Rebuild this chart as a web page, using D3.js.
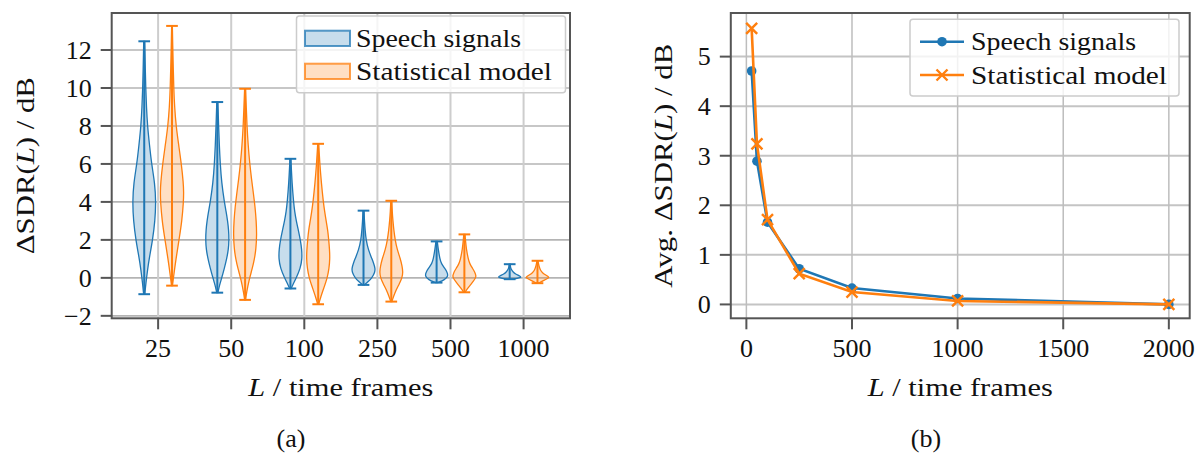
<!DOCTYPE html>
<html><head><meta charset="utf-8">
<script src="https://cdn.jsdelivr.net/npm/d3@7"></script>
<style>
body{margin:0;background:#fff}
svg{display:block}
</style>
</head><body>
<svg id="c" width="1204" height="455"></svg>
<script>
// ---------------- data ----------------
const categories = ["25", "50", "100", "250", "500", "1000"];
const seriesNames = ["Speech signals", "Statistical model"];
const colors = ["#1f77b4", "#ff7f0e"];

// violin profiles: [value in dB, relative density]; first/last entries are min/max
const speechProfiles = [
  [[-0.86,0.05],[-0.3,0.14],[0.5,0.3],[1,0.42],[2,0.72],[3,0.92],[4,1.0],[5,0.9],[6,0.63],[7,0.45],[8,0.28],[9,0.19],[10,0.13],[11,0.09],[12,0.06],[12.46,0.04]],
  [[-0.78,0.05],[-0.4,0.18],[0,0.38],[0.5,0.6],[1,0.8],[1.5,0.95],[2,1.0],[2.5,0.97],[3,0.88],[3.5,0.75],[4,0.6],[5,0.37],[6,0.25],[7,0.17],[8,0.11],[9,0.06],[9.26,0.04]],
  [[-0.56,0.06],[-0.3,0.25],[0,0.5],[0.5,0.85],[1,1.0],[1.5,0.97],[2,0.85],[2.5,0.68],[3,0.5],[3.5,0.36],[4,0.27],[5,0.14],[6,0.06],[6.27,0.04]],
  [[-0.37,0.08],[-0.2,0.4],[0,0.72],[0.3,0.98],[0.5,1.0],[0.8,0.85],[1,0.72],[1.5,0.4],[2,0.22],[2.5,0.14],[3,0.08],[3.54,0.04]],
  [[-0.25,0.1],[-0.1,0.7],[0.1,1.0],[0.3,0.9],[0.5,0.7],[0.75,0.4],[1,0.28],[1.5,0.14],[1.92,0.06]],
  [[-0.07,0.3],[0,0.85],[0.05,1.0],[0.12,0.8],[0.2,0.5],[0.3,0.3],[0.45,0.12],[0.6,0.06],[0.72,0.04]]
];
const modelProfiles = [
  [[-0.41,0.04],[0,0.12],[1,0.34],[2,0.6],[3,0.85],[4,0.98],[4.5,1.0],[5,0.97],[6,0.8],[7,0.57],[8,0.35],[9,0.22],[10,0.15],[11,0.11],[12,0.07],[13.27,0.03]],
  [[-1.16,0.04],[-0.8,0.12],[-0.1,0.34],[0.5,0.62],[1,0.8],[1.5,0.93],[2.3,1.0],[3,0.95],[3.7,0.86],[4.5,0.7],[5.2,0.55],[6,0.4],[7,0.26],[8,0.16],[9,0.1],[9.96,0.04]],
  [[-1.39,0.04],[-1,0.22],[-0.5,0.5],[0,0.78],[0.5,0.93],[1,1.0],[1.5,0.97],[2,0.9],[2.5,0.82],[3,0.68],[3.5,0.55],[4,0.44],[5,0.27],[6,0.14],[7.06,0.04]],
  [[-1.25,0.05],[-0.8,0.28],[-0.3,0.7],[0,0.92],[0.3,1.0],[0.6,0.93],[1,0.78],[1.5,0.5],[2,0.33],[2.5,0.22],[3,0.14],[3.5,0.08],[4.06,0.04]],
  [[-0.76,0.06],[-0.55,0.28],[-0.3,0.62],[0,0.97],[0.1,1.0],[0.3,0.9],[0.5,0.7],[0.75,0.45],[1,0.33],[1.5,0.17],[2,0.09],[2.29,0.05]],
  [[-0.28,0.08],[-0.15,0.5],[0,0.95],[0.04,1.0],[0.15,0.7],[0.25,0.45],[0.4,0.25],[0.55,0.17],[0.7,0.1],[0.9,0.04]]
];
const yTicksLeft = [-2, 0, 2, 4, 6, 8, 10, 12];

const frameLengths = [25, 50, 100, 250, 500, 1000, 2000];
const avgSpeech = [4.71, 2.89, 1.66, 0.72, 0.33, 0.12, 0.0];
const avgModel = [5.57, 3.24, 1.71, 0.62, 0.25, 0.07, 0.0];
const xTicksRight = [0, 500, 1000, 1500, 2000];
const yTicksRight = [0, 1, 2, 3, 4, 5];

// ---------------- helpers ----------------
const FONT = '"Liberation Serif", "Times New Roman", serif';
const svg = d3.select("#c").style("font-family", FONT);
const FS = 26;
const spineColor = "#555";
const gridColor = "#c4c4c4";
const fmt = v => (v < 0 ? "\u2212" + Math.abs(v) : String(v));

function txt(g) {
  return g.append("text").style("font-family", FONT).attr("font-size", FS).attr("fill", "#111");
}
function frame(g, L, R, T, B) {
  g.append("rect").attr("x", L).attr("y", T).attr("width", R - L).attr("height", B - T)
    .attr("fill", "none").attr("stroke", spineColor).attr("stroke-width", 2);
}
function yAxisTicks(g, y, ticks, L) {
  ticks.forEach(t => {
    g.append("line").attr("x1", L - 11).attr("x2", L).attr("y1", y(t)).attr("y2", y(t))
      .attr("stroke", spineColor).attr("stroke-width", 2);
    txt(g).attr("x", L - 20).attr("y", y(t)).attr("dy", "0.34em")
      .attr("text-anchor", "end").text(fmt(t));
  });
}
function xAxisTicks(g, xs, labels, B) {
  xs.forEach((xp, i) => {
    g.append("line").attr("x1", xp).attr("x2", xp).attr("y1", B).attr("y2", B + 11)
      .attr("stroke", spineColor).attr("stroke-width", 2);
    txt(g).attr("x", xp).attr("y", 357).attr("text-anchor", "middle").text(labels[i]);
  });
}
function ylabel(g, x, cy, prefix, len) {
  const t = txt(g).attr("transform", `translate(${x},${cy}) rotate(-90)`)
    .attr("text-anchor", "middle")
    .attr("textLength", len).attr("lengthAdjust", "spacingAndGlyphs");
  t.append("tspan").text(prefix + "\u0394SDR(");
  t.append("tspan").attr("font-style", "italic").text("L");
  t.append("tspan").text(") / dB");
}
function xlabel(g, cx) {
  const t = txt(g).attr("x", cx).attr("y", 396).attr("text-anchor", "middle")
    .attr("textLength", 185).attr("lengthAdjust", "spacingAndGlyphs");
  t.append("tspan").attr("font-style", "italic").text("L");
  t.append("tspan").text(" / time frames");
}

// ---------------- left: violins ----------------
{
  const L = 111.7, R = 570, T = 13, B = 318.3;
  const g = svg.append("g");
  const x = d3.scaleLinear().domain([0.365, 6.635]).range([L, R]);
  const y = d3.scaleLinear().domain([-2.13, 13.95]).range([B, T]);
  const pos = categories.map((c, i) => i + 1);

  yTicksLeft.forEach(t => g.append("line").attr("x1", L).attr("x2", R).attr("y1", y(t)).attr("y2", y(t))
    .attr("stroke", "#b4b4b4").attr("stroke-width", 1.6));
  pos.forEach(p => g.append("line").attr("x1", x(p)).attr("x2", x(p)).attr("y1", T).attr("y2", B)
    .attr("stroke", "#cdcdcd").attr("stroke-width", 2));

  const offset = 0.19, halfW = 0.16;
  [speechProfiles, modelProfiles].forEach((profiles, s) => {
    const col = colors[s];
    const fill = d3.color(col); fill.opacity = 0.25;
    profiles.forEach((prof, i) => {
      const c = pos[i] + (s === 0 ? -offset : offset);
      const cx = x(c), w = x(halfW) - x(0);
      const area = d3.area().curve(d3.curveBasis)
        .y(d => y(d[0])).x0(d => cx - w * d[1]).x1(d => cx + w * d[1]);
      g.append("path").attr("d", area(prof)).attr("fill", fill.formatRgb())
        .attr("stroke", col).attr("stroke-width", 1.3);
      const vmin = prof[0][0], vmax = prof[prof.length - 1][0];
      g.append("line").attr("x1", cx).attr("x2", cx).attr("y1", y(vmin)).attr("y2", y(vmax))
        .attr("stroke", col).attr("stroke-width", 2);
      [vmin, vmax].forEach(v => g.append("line").attr("x1", cx - w / 2).attr("x2", cx + w / 2)
        .attr("y1", y(v)).attr("y2", y(v)).attr("stroke", col).attr("stroke-width", 2));
    });
  });

  frame(g, L, R, T, B);
  yAxisTicks(g, y, yTicksLeft, L);
  xAxisTicks(g, pos.map(p => x(p)), categories, B);
  ylabel(g, 34, (T + B) / 2, "", 177);
  xlabel(g, (L + R) / 2);
  txt(g).attr("x", 291).attr("y", 447).attr("text-anchor", "middle").text("(a)");

  // legend
  const lg = g.append("g");
  lg.append("rect").attr("x", 296.5).attr("y", 16).attr("width", 269).attr("height", 76.7).attr("rx", 3)
    .attr("fill", "#fff").attr("fill-opacity", 0.8).attr("stroke", "#cccccc").attr("stroke-width", 1.5);
  seriesNames.forEach((n, i) => {
    const fill = d3.color(colors[i]); fill.opacity = 0.25;
    const yy = 30.7 + i * 33;
    lg.append("rect").attr("x", 305).attr("y", yy).attr("width", 45).attr("height", 15.3)
      .attr("fill", fill.formatRgb()).attr("stroke", colors[i]).attr("stroke-opacity", 0.75).attr("stroke-width", 2);
    txt(lg).attr("x", 356).attr("y", yy + 16)
      .attr("textLength", i === 0 ? 165 : 196).attr("lengthAdjust", "spacingAndGlyphs").text(n);
  });
}

// ---------------- right: averages ----------------
{
  const L = 730.8, R = 1189.7, T = 13, B = 318.3;
  const g = svg.append("g");
  const x = d3.scaleLinear().domain([-73.75, 2098.75]).range([L, R]);
  const y = d3.scaleLinear().domain([-0.28, 5.88]).range([B, T]);

  yTicksRight.forEach(t => g.append("line").attr("x1", L).attr("x2", R).attr("y1", y(t)).attr("y2", y(t))
    .attr("stroke", gridColor).attr("stroke-width", 2));
  xTicksRight.forEach(t => g.append("line").attr("x1", x(t)).attr("x2", x(t)).attr("y1", T).attr("y2", B)
    .attr("stroke", "#bdbdbd").attr("stroke-width", 1.5));

  const line = d3.line().x((d, i) => x(frameLengths[i])).y(d => y(d));
  const crossPath = (cx, cy, r) => `M${cx - r},${cy - r}L${cx + r},${cy + r}M${cx - r},${cy + r}L${cx + r},${cy - r}`;

  g.append("path").attr("d", line(avgSpeech)).attr("fill", "none").attr("stroke", colors[0]).attr("stroke-width", 2.6);
  avgSpeech.forEach((v, i) => g.append("circle").attr("cx", x(frameLengths[i])).attr("cy", y(v)).attr("r", 4.8).attr("fill", colors[0]));
  g.append("path").attr("d", line(avgModel)).attr("fill", "none").attr("stroke", colors[1]).attr("stroke-width", 2.6);
  avgModel.forEach((v, i) => g.append("path").attr("d", crossPath(x(frameLengths[i]), y(v), 5.5))
    .attr("stroke", colors[1]).attr("stroke-width", 2.4).attr("fill", "none"));

  frame(g, L, R, T, B);
  yAxisTicks(g, y, yTicksRight, L);
  xAxisTicks(g, xTicksRight.map(t => x(t)), xTicksRight.map(String), B);
  ylabel(g, 672, (T + B) / 2, "Avg. ", 244);
  xlabel(g, (L + R) / 2);
  txt(g).attr("x", 926).attr("y", 447).attr("text-anchor", "middle").text("(b)");

  const lg = g.append("g");
  lg.append("rect").attr("x", 910).attr("y", 19.3).attr("width", 269).attr("height", 76.7).attr("rx", 3)
    .attr("fill", "#fff").attr("fill-opacity", 0.8).attr("stroke", "#cccccc").attr("stroke-width", 1.5);
  seriesNames.forEach((n, i) => {
    const yy = 41.7 + i * 33.3;
    lg.append("line").attr("x1", 920).attr("x2", 964).attr("y1", yy).attr("y2", yy)
      .attr("stroke", colors[i]).attr("stroke-width", 2.6);
    if (i === 0) lg.append("circle").attr("cx", 942).attr("cy", yy).attr("r", 4.8).attr("fill", colors[0]);
    else lg.append("path").attr("d", crossPath(942, yy, 5.5)).attr("stroke", colors[1]).attr("stroke-width", 2.4);
    txt(lg).attr("x", 971).attr("y", yy + 8.5)
      .attr("textLength", i === 0 ? 165 : 196).attr("lengthAdjust", "spacingAndGlyphs").text(n);
  });
}
</script>
</body></html>
